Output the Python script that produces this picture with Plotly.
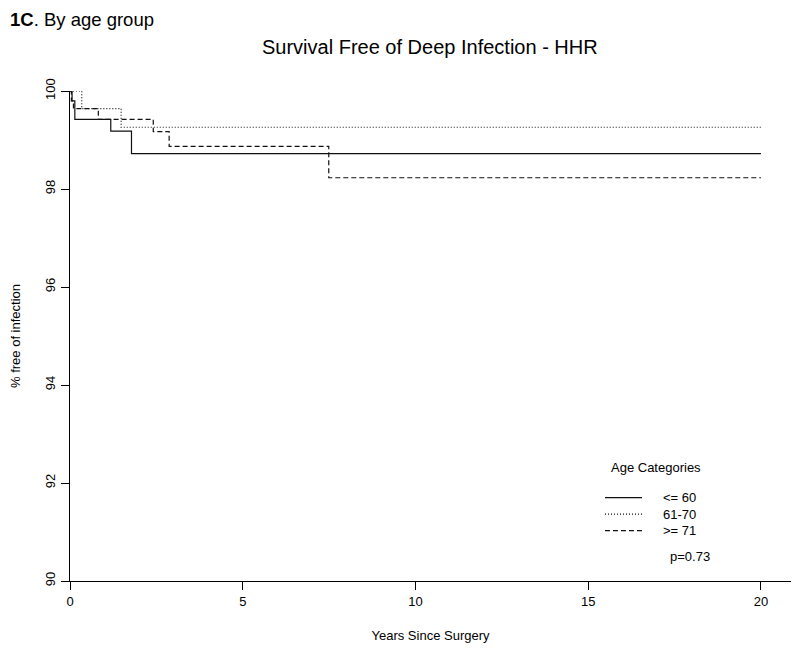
import plotly.graph_objects as go

# Kaplan-Meier step data
t_le60 = [0, 0.06, 0.14, 1.18, 1.78, 20]
s_le60 = [100, 99.8, 99.42, 99.18, 98.72, 98.72]

t_61_70 = [0, 0.34, 1.48, 20]
s_61_70 = [100, 99.64, 99.26, 99.26]

t_ge71 = [0, 0.04, 0.10, 0.82, 2.41, 2.87, 7.49, 20]
s_ge71 = [100, 99.8, 99.64, 99.42, 99.17, 98.87, 98.23, 98.23]

series_names = ["<= 60", "61-70", ">= 71"]
x_ticks = [0, 5, 10, 15, 20]
y_ticks = [90, 92, 94, 96, 98, 100]

FONT = "Liberation Sans, Arial, Helvetica, sans-serif"
LINE_COLOR = "#111111"
styles = ["solid", "1px,2px", "5px,3px"]

# plot area (figure px): x 62..783, y 83..573  (page adds 8px body margin)
L, T, W, H = 62, 83, 721, 490
def px(xf):
    return (xf - L) / W
def py(yf):
    return 1 - (yf - T) / H

fig = go.Figure()
for name, t, s, d in zip(series_names, [t_le60, t_61_70, t_ge71],
                         [s_le60, s_61_70, s_ge71], styles):
    fig.add_trace(go.Scatter(
        x=t, y=s, mode="lines", name=name, showlegend=False,
        line=dict(color=LINE_COLOR, width=1.2, dash=d, shape="hv"),
    ))

# legend drawn as a key box (R-style) at the lower right
shapes = []
annotations = []
row_y = [489.7, 506.2, 522.7]
for name, d, yy in zip(series_names, styles, row_y):
    shapes.append(dict(type="line", xref="paper", yref="paper",
                       x0=px(597), x1=px(634), y0=py(yy), y1=py(yy),
                       line=dict(color=LINE_COLOR, width=1.2, dash=d)))
    annotations.append(dict(text=name, x=px(653), y=py(yy), xref="paper",
                            yref="paper", showarrow=False, xanchor="left",
                            yanchor="middle", font=dict(size=13)))

annotations += [
    dict(text="<b>1C</b>. By age group", x=px(0), y=py(11), xref="paper",
         yref="paper", showarrow=False, font=dict(size=18.5), xanchor="left",
         yanchor="middle"),
    dict(text="Survival Free of Deep Infection - HHR", x=px(422), y=py(39),
         xref="paper", yref="paper", showarrow=False, font=dict(size=20),
         xanchor="center", yanchor="middle"),
    dict(text="Age Categories", x=px(601), y=py(459), xref="paper",
         yref="paper", showarrow=False, xanchor="left", yanchor="middle",
         font=dict(size=13)),
    dict(text="p=0.73", x=px(660), y=py(548), xref="paper", yref="paper",
         showarrow=False, xanchor="left", yanchor="middle",
         font=dict(size=13)),
]

fig.update_layout(
    width=800, height=651,
    margin=dict(l=L, r=800 - L - W, t=T, b=651 - T - H, autoexpand=False),
    paper_bgcolor="white", plot_bgcolor="white",
    font=dict(family=FONT, size=13, color="black"),
    showlegend=False,
    xaxis=dict(
        range=[0, 20.87], tickvals=x_ticks, ticks="outside", ticklen=8,
        showgrid=False, zeroline=False, showline=True, linecolor="black",
        linewidth=1, tickcolor="black", automargin=False, ticklabelstandoff=0,
        title=dict(text="Years Since Surgery", font=dict(size=13), standoff=23),
        tickfont=dict(size=13),
    ),
    yaxis=dict(
        range=[90, 100], tickvals=y_ticks, ticks="outside", ticklen=8,
        showgrid=False, zeroline=False, showline=True, linecolor="black",
        linewidth=1, tickcolor="black", tickangle=-90, automargin=False,
        ticklabelstandoff=1,
        title=dict(text="% free of infection", font=dict(size=13), standoff=20),
        tickfont=dict(size=13),
    ),
    shapes=shapes,
    annotations=annotations,
)

fig.write_html("out.html")
